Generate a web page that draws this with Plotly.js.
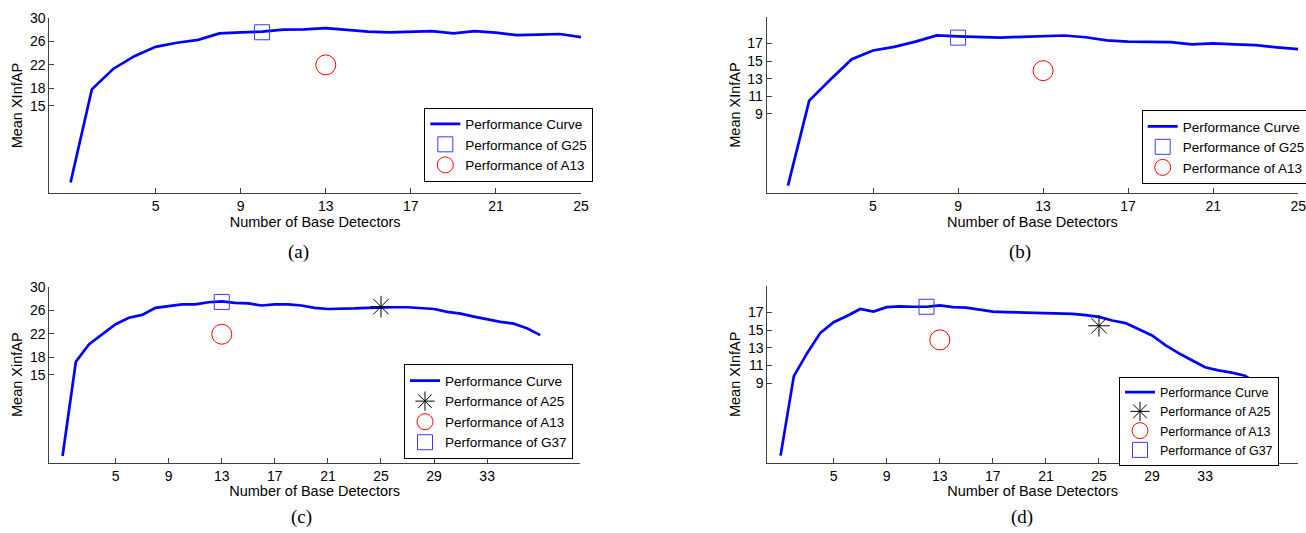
<!DOCTYPE html>
<html>
<head>
<meta charset="utf-8">
<script src="https://cdn.plot.ly/plotly-3.0.1.min.js"></script>
<style>html,body{margin:0;padding:0;background:#fff;}#chart{width:1306px;height:533px;}</style>
</head>
<body>
<div id="chart"></div>
<script>
// ---- data ----
const xAB = [1,2,3,4,5,6,7,8,9,10,11,12,13,14,15,16,17,18,19,20,21,22,23,24,25];
const xCD = [1,2,3,4,5,6,7,8,9,10,11,12,13,14,15,16,17,18,19,20,21,22,23,24,25,26,27,28,29,30,31,32,33,34,35,36,37];

const curveA = [1.8,17.8,21.3,23.5,25.1,25.8,26.3,27.4,27.6,27.7,28.05,28.1,28.3,28.0,27.7,27.6,27.7,27.8,27.4,27.8,27.55,27.1,27.2,27.3,26.75];
const curveB = [0.83,10.5,12.9,15.2,16.2,16.6,17.2,17.9,17.8,17.7,17.65,17.75,17.85,17.9,17.7,17.35,17.2,17.2,17.15,16.9,17.0,16.9,16.8,16.55,16.35];
const curveC = [1.15,17.2,20.2,21.9,23.6,24.7,25.2,26.4,26.7,27.0,27.0,27.35,27.5,27.25,27.15,26.8,27.0,27.0,26.8,26.4,26.2,26.2,26.3,26.4,26.5,26.5,26.5,26.4,26.2,25.7,25.4,24.9,24.4,24.0,23.7,22.9,21.75];
const curveD = [0.8,9.8,12.4,14.7,15.9,16.6,17.4,17.1,17.6,17.7,17.65,17.65,17.8,17.6,17.55,17.3,17.1,17.05,17.0,17.0,16.9,16.9,16.85,16.7,16.5,16.1,15.8,15.1,14.4,13.3,12.4,11.6,10.8,10.45,10.2,9.85,8.9];

// single-point markers: [x, y]
const g25A = [10, 27.6], a13A = [13, 22.0];
const g25B = [9, 17.65], a13B = [13, 13.9];
const a25C = [25, 26.6], a13C = [13, 21.9], g37C = [13, 27.4];
const a25D = [25, 15.5], a13D = [13, 13.9], g37D = [12, 17.65];

const xTicksAB = [5,9,13,17,21,25];
const xTicksCD = [5,9,13,17,21,25,29,33];
const yTicksAC = [15,18,22,26,30];
const yTicksBD = [9,11,13,15,17];

const yTitles = ['Mean XInfAP','Mean XInfAP','Mean XinfAP','Mean XInfAP'];
const xTitle = 'Number of Base Detectors';
const captions = ['(a)','(b)','(c)','(d)'];
const names = {curve:'Performance Curve', g25:'Performance of G25', a13:'Performance of A13', a25:'Performance of A25', g37:'Performance of G37'};

// ---- styling ----
const W = 1306, H = 533;
const FONT = 'Liberation Sans, Arial, sans-serif';
const px = v => v / W;
const py = v => 1 - v / H;

function curveTrace(x, y, n, lg) {
  return {x:x, y:y, type:'scatter', mode:'lines', name:names.curve,
    line:{color:'#0000ff', width:2.7}, xaxis:'x'+n, yaxis:'y'+n, legend:lg};
}
function squareTrace(p, name, n, lg) {
  return {x:[p[0]], y:[p[1]], type:'scatter', mode:'markers', name:name,
    marker:{symbol:'square-open', size:15, color:'#3a3aff', line:{width:1, color:'#3a3aff'}},
    xaxis:'x'+n, yaxis:'y'+n, legend:lg};
}
function circleTrace(p, name, n, lg) {
  return {x:[p[0]], y:[p[1]], type:'scatter', mode:'markers', name:name,
    marker:{symbol:'circle-open', size:20, color:'#ff0000', line:{width:1, color:'#ff0000'}},
    xaxis:'x'+n, yaxis:'y'+n, legend:lg};
}
function starTrace(p, name, n, lg) {
  return {x:[p[0]], y:[p[1]], type:'scatter', mode:'markers', name:name,
    marker:{symbol:'asterisk-open', size:18, color:'#000000', line:{width:1, color:'#000000'}},
    xaxis:'x'+n, yaxis:'y'+n, legend:lg};
}

const data = [
  curveTrace(xAB, curveA, '', 'legend'),
  squareTrace(g25A, names.g25, '', 'legend'),
  circleTrace(a13A, names.a13, '', 'legend'),

  curveTrace(xAB, curveB, '2', 'legend2'),
  squareTrace(g25B, names.g25, '2', 'legend2'),
  circleTrace(a13B, names.a13, '2', 'legend2'),

  curveTrace(xCD, curveC, '3', 'legend3'),
  starTrace(a25C, names.a25, '3', 'legend3'),
  circleTrace(a13C, names.a13, '3', 'legend3'),
  squareTrace(g37C, names.g37, '3', 'legend3'),

  curveTrace(xCD, curveD, '4', 'legend4'),
  starTrace(a25D, names.a25, '4', 'legend4'),
  circleTrace(a13D, names.a13, '4', 'legend4'),
  squareTrace(g37D, names.g37, '4', 'legend4')
];

function xAxis(domain, range, ticks, anchor) {
  return {domain:domain, range:range, tickmode:'array', tickvals:ticks, ticktext:ticks.map(String),
    ticks:'inside', ticklen:5, tickwidth:1, tickcolor:'#404040', showline:true, linecolor:'#404040', linewidth:1,
    showgrid:false, zeroline:false, mirror:false, anchor:anchor, ticklabeloverflow:'allow',
    tickfont:{family:FONT, size:14, color:'#000'},
    title:{text:xTitle, font:{family:FONT, size:14.5, color:'#000'}, standoff:1}};
}
function yAxis(domain, range, ticks, anchor, title) {
  return {domain:domain, range:range, tickmode:'array', tickvals:ticks, ticktext:ticks.map(String),
    ticks:'inside', ticklen:5, tickwidth:1, tickcolor:'#404040', showline:true, linecolor:'#404040', linewidth:1,
    showgrid:false, zeroline:false, mirror:false, anchor:anchor, ticklabeloverflow:'allow',
    tickfont:{family:FONT, size:14, color:'#000'},
    title:{text:title, font:{family:FONT, size:14.5, color:'#000'}, standoff:3}};
}
function legendBox(x, yc, fs) {
  return {x:x, y:yc, xanchor:'left', yanchor:'middle', bgcolor:'#ffffff', bordercolor:'#000000', borderwidth:1,
    font:{family:FONT, size:fs, color:'#000'}, tracegroupgap:0, itemwidth:30};
}

const layout = {
  width:W, height:H,
  margin:{l:0, r:0, t:0, b:0, autoexpand:false},
  paper_bgcolor:'#fff', plot_bgcolor:'#fff',
  showlegend:true,
  xaxis:  xAxis([px(49.3), px(581)],  [0,25], xTicksAB, 'y'),
  yaxis:  yAxis([py(193), py(18.3)],  [0,30], yTicksAC, 'x',  yTitles[0]),
  xaxis2: xAxis([px(766.7), px(1298.2)], [0,25], xTicksAB, 'y2'),
  yaxis2: yAxis([py(193), py(17)],    [0,20], yTicksBD, 'x2', yTitles[1]),
  xaxis3: xAxis([px(49.3), px(580)],  [0,40], xTicksCD, 'y3'),
  yaxis3: yAxis([py(462.7), py(286.7)], [0,30], yTicksAC, 'x3', yTitles[2]),
  xaxis4: xAxis([px(767.3), px(1298)], [0,40], xTicksCD, 'y4'),
  yaxis4: yAxis([py(462.7), py(286)], [0,20], yTicksBD, 'x4', yTitles[3]),
  legend:  legendBox(px(424.3), py(144.5), 13.5),
  legend2: legendBox(px(1141.7), py(147), 13.5),
  legend3: legendBox(px(404), py(411.8), 13.5),
  legend4: legendBox(px(1119), py(421), 12.5),
  annotations: [
    {text:captions[0], x:px(298), y:py(252)},
    {text:captions[1], x:px(1020), y:py(252)},
    {text:captions[2], x:px(301), y:py(517)},
    {text:captions[3], x:px(1022), y:py(517)}
  ].map(a => Object.assign(a, {xref:'paper', yref:'paper', showarrow:false, xanchor:'center', yanchor:'middle',
      font:{family:'Liberation Serif, Times New Roman, serif', size:19, color:'#000'}}))
};

Plotly.newPlot('chart', data, layout, {displayModeBar:false, staticPlot:true});
</script>
</body>
</html>
